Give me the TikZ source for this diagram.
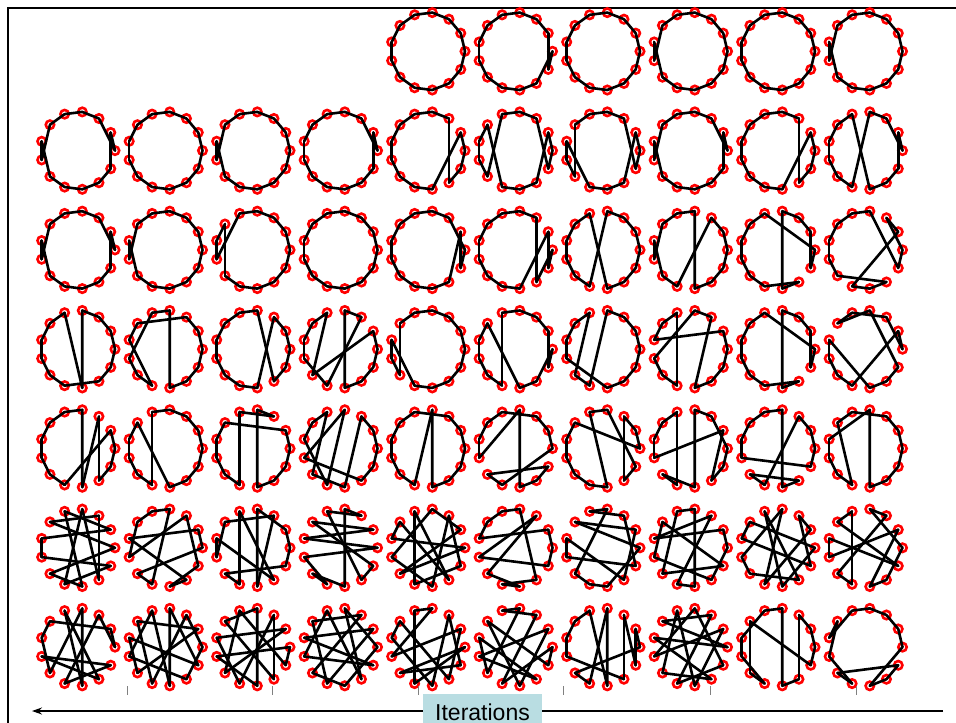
\documentclass[tikz,border=0pt]{standalone}
\usepackage{fontspec}
\setsansfont{Liberation Sans}
\usetikzlibrary{arrows.meta}
\definecolor{boxblue}{RGB}{185,221,226}
\tikzset{
  city/.style={circle, draw=red, fill=white, line width=2.6pt, minimum size=8.4pt, inner sep=0pt},
  tourline/.style={black, line width=2.6pt, line cap=round},
  frameline/.style={black, line width=2.8pt},
  tickmark/.style={gray, line width=0.9pt},
  axisline/.style={black, line width=1.4pt, -{Stealth[length=10pt,width=7pt]}},
  labelbox/.style={fill=boxblue, minimum width=119pt, inner ysep=9.5pt, inner xsep=0pt,
    font=\sffamily\fontsize{23}{23}\selectfont, text height=16.5pt, text depth=0pt, anchor=base}
}
\newcommand\tsppanel[4]{%
  \foreach \k in {0,...,12}{
    \node[city] (#1-\k) at ({#2+37.2*cos(\k*360/13)},{#3-39*sin(\k*360/13)}) {};
  }
  \foreach \a [count=\i, remember=\a as \b] in {#4}{
    \ifnum\i>1 \draw[tourline] (#1-\b.center) -- (#1-\a.center);\fi
  }%
}
\begin{document}
\begin{tikzpicture}[x=1pt,y=-1pt]
\useasboundingbox (0,0) rectangle (956,723);
\fill[white] (0,0) rectangle (956,723);
% frame
\coordinate (fa) at (8,723);
\coordinate (fb) at (8,8);
\coordinate (fc) at (956,8);
\draw[frameline] (fa) -- (fb) -- (fc);
% row 1
\tsppanel{r1c5}{427.8}{51.3}{0,1,2,3,4,5,6,7,8,9,10,11,12,0}
\tsppanel{r1c6}{515.3}{51.3}{1,2,3,4,5,6,7,8,9,10,11,0,12,1}
\tsppanel{r1c7}{602.8}{51.3}{0,1,2,3,4,5,6,7,8,9,10,11,12,0}
\tsppanel{r1c8}{690.3}{51.3}{0,1,2,3,4,5,7,6,8,9,10,11,12,0}
\tsppanel{r1c9}{777.8}{51.3}{0,1,2,3,4,5,6,7,8,9,10,11,12,0}
\tsppanel{r1c10}{865.3}{51.3}{0,1,2,3,4,5,7,6,8,9,10,11,12,0}
% row 2
\tsppanel{r2c1}{77.8}{150.6}{1,0,2,3,4,5,7,6,8,9,10,11,12,1}
\tsppanel{r2c2}{165.3}{150.6}{0,1,2,3,4,5,6,7,8,9,10,11,12,0}
\tsppanel{r2c3}{252.8}{150.6}{0,1,2,3,4,5,7,6,8,9,10,11,12,0}
\tsppanel{r2c4}{340.3}{150.6}{1,0,2,3,4,5,6,7,8,9,10,11,12,1}
\tsppanel{r2c5}{427.8}{150.6}{3,4,5,6,7,8,9,10,1,0,12,11,2,3}
\tsppanel{r2c6}{515.3}{150.6}{3,2,12,0,1,11,10,9,5,6,7,8,4,3}
\tsppanel{r2c7}{602.8}{150.6}{3,2,12,0,1,11,10,9,6,7,8,5,4,3}
\tsppanel{r2c8}{690.3}{150.6}{1,0,2,3,4,5,7,6,8,9,10,11,12,1}
\tsppanel{r2c9}{777.8}{150.6}{0,1,10,9,8,7,6,5,4,3,2,11,12,0}
\tsppanel{r2c10}{865.3}{150.6}{3,9,8,7,6,5,4,10,11,12,1,0,2,3}
% row 3
\tsppanel{r3c1}{77.8}{249.9}{1,0,2,3,4,5,7,6,8,9,10,11,12,1}
\tsppanel{r3c2}{165.3}{249.9}{0,1,2,3,4,5,7,6,8,9,10,11,12,0}
\tsppanel{r3c3}{252.8}{249.9}{0,1,2,3,4,7,6,5,8,9,10,11,12,0}
\tsppanel{r3c4}{340.3}{249.9}{0,1,2,3,4,5,6,7,8,9,10,11,12,0}
\tsppanel{r3c5}{427.8}{249.9}{3,4,5,6,7,8,9,10,11,1,12,0,2,3}
\tsppanel{r3c6}{515.3}{249.9}{1,10,9,8,7,6,5,4,3,2,11,0,12,1}
\tsppanel{r3c7}{602.8}{249.9}{9,3,2,1,0,12,11,10,4,5,6,7,8,9}
\tsppanel{r3c8}{690.3}{249.9}{3,10,11,12,0,1,2,9,8,6,7,5,4,3}
\tsppanel{r3c9}{777.8}{249.9}{4,0,12,1,2,3,10,11,9,8,7,6,5,4}
\tsppanel{r3c10}{865.3}{249.9}{4,3,12,0,2,1,9,10,11,8,7,6,5,4}
% row 4
\tsppanel{r4c1}{77.8}{349.2}{10,3,2,1,0,12,11,9,8,7,6,5,4,10}
\tsppanel{r4c2}{165.3}{349.2}{5,2,1,0,12,11,10,3,4,7,8,9,6,5}
\tsppanel{r4c3}{252.8}{349.2}{3,11,12,0,1,2,10,9,8,7,6,5,4,3}
\tsppanel{r4c4}{340.3}{349.2}{4,8,1,0,12,11,10,3,2,9,7,6,5,4}
\tsppanel{r4c5}{427.8}{349.2}{3,4,5,8,7,6,9,10,11,12,0,1,2,3}
\tsppanel{r4c6}{515.3}{349.2}{3,2,1,12,0,11,10,5,6,7,8,9,4,3}
\tsppanel{r4c7}{602.8}{349.2}{3,9,8,4,5,6,7,10,11,12,0,1,2,3}
\tsppanel{r4c8}{690.3}{349.2}{4,9,8,7,3,2,10,11,12,0,1,6,5,4}
\tsppanel{r4c9}{777.8}{349.2}{4,0,12,1,2,3,10,11,9,8,7,6,5,4}
\tsppanel{r4c10}{865.3}{349.2}{5,3,12,11,10,6,7,8,9,1,0,2,4,5}
% row 5
\tsppanel{r5c1}{77.8}{448.5}{3,4,5,6,7,8,9,1,0,12,11,2,10,3}
\tsppanel{r5c2}{165.3}{448.5}{2,3,4,9,8,7,6,5,10,11,12,0,1,2}
\tsppanel{r5c3}{252.8}{448.5}{4,9,8,7,6,5,1,0,12,11,10,3,2,4}
\tsppanel{r5c4}{340.3}{448.5}{3,9,6,5,4,8,10,2,1,0,12,11,7,3}
\tsppanel{r5c5}{427.8}{448.5}{3,9,8,7,6,5,4,2,1,0,12,11,10,3}
\tsppanel{r5c6}{515.3}{448.5}{3,7,6,5,4,2,1,0,9,8,12,11,10,3}
\tsppanel{r5c7}{602.8}{448.5}{3,12,11,2,1,0,5,6,7,8,9,10,4,3}
\tsppanel{r5c8}{690.3}{448.5}{4,9,8,10,3,2,0,12,11,1,7,6,5,4}
\tsppanel{r5c9}{777.8}{448.5}{3,4,5,6,7,12,0,1,2,9,8,11,10,3}
\tsppanel{r5c10}{865.3}{448.5}{3,10,11,12,0,1,2,4,5,9,8,7,6,3}
% row 6
\tsppanel{r6c1}{77.8}{547.8}{3,9,12,7,6,1,4,10,8,0,5,2,11,3}
\tsppanel{r6c2}{165.3}{547.8}{4,3,9,8,0,1,6,11,10,12,2,7,5,4}
\tsppanel{r6c3}{252.8}{547.8}{5,2,10,3,1,0,12,8,9,4,11,6,7,5}
\tsppanel{r6c4}{340.3}{547.8}{4,2,3,10,8,9,7,0,6,1,5,12,11,4}
\tsppanel{r6c5}{427.8}{547.8}{3,1,8,0,6,5,11,4,9,12,2,10,7,3}
\tsppanel{r6c6}{515.3}{547.8}{4,3,11,9,10,8,2,7,12,0,1,6,5,4}
\tsppanel{r6c7}{602.8}{547.8}{3,4,2,12,7,6,11,1,5,0,10,9,8,3}
\tsppanel{r6c8}{690.3}{547.8}{0,1,6,2,9,10,3,4,8,12,5,7,11,0}
\tsppanel{r6c9}{777.8}{547.8}{0,5,6,12,2,1,9,3,7,8,11,4,10,0}
\tsppanel{r6c10}{865.3}{547.8}{0,3,2,8,9,4,5,12,6,7,1,10,11,0}
% row 7
\tsppanel{r7c1}{77.8}{647.1}{0,1,5,6,8,3,10,4,11,7,12,9,2,0}
\tsppanel{r7c2}{165.3}{647.1}{0,2,9,5,1,8,6,12,3,10,4,7,11,0}
\tsppanel{r7c3}{252.8}{647.1}{0,12,4,8,1,6,9,2,11,5,3,10,7,0}
\tsppanel{r7c4}{340.3}{647.1}{0,3,11,4,7,12,6,1,9,5,2,8,10,0}
\tsppanel{r7c5}{427.8}{647.1}{0,9,4,3,7,1,11,5,6,10,2,12,8,0}
\tsppanel{r7c6}{515.3}{647.1}{3,4,2,9,0,12,5,10,1,7,11,6,8,3}
\tsppanel{r7c7}{602.8}{647.1}{6,5,4,10,3,9,8,0,1,12,2,11,7,6}
\tsppanel{r7c8}{690.3}{647.1}{0,5,2,9,12,3,7,1,10,4,8,11,6,0}
\tsppanel{r7c9}{777.8}{647.1}{5,12,0,1,2,11,10,3,4,6,7,9,8,5}
\tsppanel{r7c10}{865.3}{647.1}{6,4,3,2,1,0,10,11,12,8,9,7,5,6}
% ticks
\foreach \t [count=\j] in {127,272,418,563,710,856}{
  \coordinate (tt\j) at (\t,686);
  \coordinate (tb\j) at (\t,695);
  \draw[tickmark] (tt\j) -- (tb\j);
}
% axis
\coordinate (axs) at (943,711);
\coordinate (axe) at (32,711);
\draw[axisline] (axs) -- (axe);
\node[labelbox] (lab) at (482.5,720) {Iterations};
\end{tikzpicture}
\end{document}
